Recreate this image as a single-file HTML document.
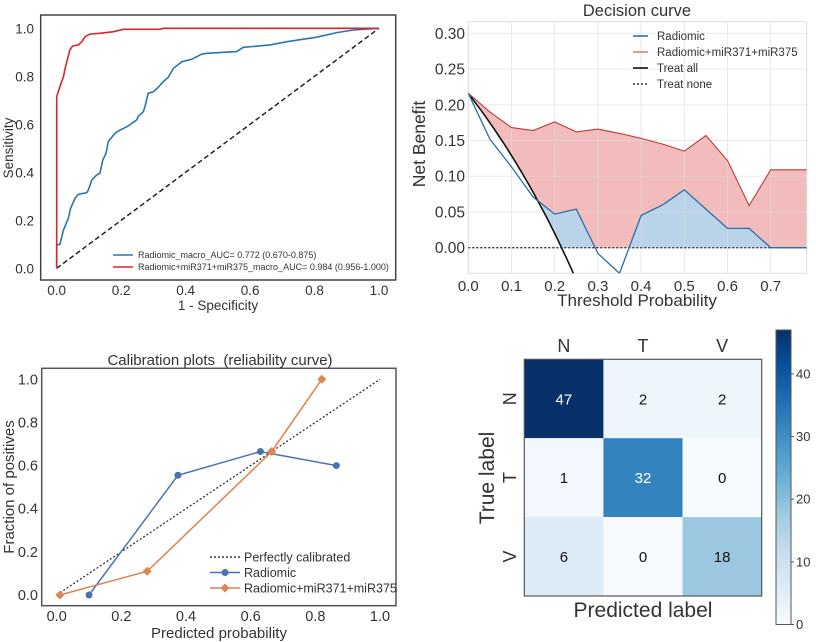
<!DOCTYPE html>
<html><head><meta charset="utf-8">
<style>
html,body{margin:0;padding:0;background:#fff;}
svg{display:block;font-family:"Liberation Sans",Arial,sans-serif;}
</style></head>
<body>
<svg id="s" width="816" height="642" viewBox="0 0 816 642" xmlns="http://www.w3.org/2000/svg"></svg>
<script>
// ---------- ROC data ----------
const rocBlueX=[0,0,.010,.021,.036,.043,.057,.067,.093,.098,.109,.124,.134,.143,.153,.160,.171,.181,.196,.222,.233,.248,.253,.269,.274,.284,.300,.315,.331,.346,.362,.388,.419,.450,.465,.558,.579,.610,.662,.714,.807,.869,.920,1];
const rocBlueY=[0,.097,.100,.160,.208,.250,.292,.308,.315,.326,.368,.389,.396,.451,.479,.528,.546,.563,.576,.593,.604,.618,.632,.653,.674,.729,.736,.754,.778,.796,.833,.861,.871,.892,.896,.903,.921,.924,.931,.944,.963,.982,.993,1];
const rocRedX=[0,0,.010,.021,.026,.034,.041,.049,.067,.078,.088,.103,.134,.176,.207,.321,.331,1];
const rocRedY=[0,.715,.757,.799,.833,.875,.910,.926,.931,.944,.965,.976,.979,.986,.996,.996,1,1];
const rocTicks=[0,0.2,0.4,0.6,0.8,1.0];
// ---------- Decision curve data ----------
const dcThresh=[0,.05,.1,.15,.2,.25,.3,.35,.4,.45,.5,.55,.6,.65,.7,.75,.8];
const dcCombined=[.216,.19,.168,.164,.176,.162,.166,.160,.153,.145,.135,.157,.122,.059,.109,.109,.109];
const dcRadiomic=[.216,.152,.113,.071,.047,.054,-.008,-.036,.045,.060,.081,.054,.027,.027,0,0,0];
const dcPrevalence=[0.216];
const dcXTicks=[0,.1,.2,.3,.4,.5,.6,.7];
const dcYTicks=[0,.05,.1,.15,.2,.25,.3];
// ---------- Calibration data ----------
const calBlueX=[.10,.375,.63,.865];
const calBlueY=[0,.555,.665,.60];
const calOrX=[.01,.28,.665,.82];
const calOrY=[0,.11,.665,1.0];
const calTicks=[0,.2,.4,.6,.8,1.0];
// ---------- Confusion matrix ----------
const cmLabels=["N","T","V"];
const cmValues=[[47,2,2],[1,32,0],[6,0,18]];
const cbTicks=[0,10,20,30,40];

const NS="http://www.w3.org/2000/svg";
const svg=document.getElementById('s');
function el(tag,attrs,parent,text){const e=document.createElementNS(NS,tag);for(const k in attrs)e.setAttribute(k,attrs[k]);if(text!==undefined)e.textContent=text;(parent||svg).appendChild(e);return e;}
function lin(d0,d1,r0,r1){return v=>r0+(v-d0)/(d1-d0)*(r1-r0);}
function pts(xs,ys,X,Y){return xs.map((x,i)=>X(x).toFixed(1)+','+Y(ys[i]).toFixed(1)).join(' ');}

// ===== ROC =====
(function(){
const g=el('g',{});


const X=lin(0,1,56.7,379),Y=lin(0,1,268.3,28.3);
el('rect',{x:40.7,y:15,width:355,height:265,fill:'#fff',stroke:'#444','stroke-width':1.5},g);
rocTicks.forEach(t=>{
 const a=el('text',{x:X(t),y:295,'text-anchor':'middle','font-size':13.5,fill:'#333'},g,t.toFixed(1));
 
 const b=el('text',{x:34,y:Y(t)+5,'text-anchor':'end','font-size':13.5,fill:'#333'},g,t.toFixed(1));
 
});
const d=el('line',{x1:X(0),y1:Y(0),x2:X(1),y2:Y(1),stroke:'#222','stroke-width':1.5,'stroke-dasharray':'5,3'},g);

const b=el('polyline',{points:pts(rocBlueX,rocBlueY,X,Y),fill:'none',stroke:'#2a74b0','stroke-width':1.6},g);

const r=el('polyline',{points:pts(rocRedX,rocRedY,X,Y),fill:'none',stroke:'#d62728','stroke-width':1.6},g);

const l1=el('line',{x1:113,y1:255,x2:133,y2:255,stroke:'#2a74b0','stroke-width':1.6},g);

const t1=el('text',{x:138,y:258,'font-size':9,fill:'#333'},g,'Radiomic_macro_AUC= 0.772 (0.670-0.875)');

const l2=el('line',{x1:113,y1:267,x2:133,y2:267,stroke:'#d62728','stroke-width':1.6},g);

const t2=el('text',{x:138,y:270,'font-size':9,fill:'#333'},g,'Radiomic+miR371+miR375_macro_AUC= 0.984 (0.956-1.000)');

const xt=el('text',{x:218,y:310,'text-anchor':'middle','font-size':13.5,fill:'#333'},g,'1 - Specificity');

const yt=el('text',{x:0,y:0,transform:'translate(13,148) rotate(-90)','text-anchor':'middle','font-size':13.5,fill:'#333'},g,'Sensitivity');

})();

// ===== Decision curve =====
(function(){
const g=el('g',{});


const L=468.3,R=806.7,T=21.7,B=273.3;
const X=lin(0,0.7,L,770.7),Y=lin(0,0.3,247.7,33.3);
el('defs',{},g).innerHTML='<clipPath id="dcc"><rect x="'+L+'" y="'+T+'" width="'+(R-L)+'" height="'+(B-T)+'"/></clipPath><clipPath id="dcpos"><rect x="'+L+'" y="'+T+'" width="'+(R-L)+'" height="'+(Y(0)-T)+'"/></clipPath>';
const c=el('g',{'clip-path':'url(#dcc)'},g);
const x0=dcThresh[0],xN=dcThresh[dcThresh.length-1];
const rf=el('polygon',{points:X(x0)+','+Y(0)+' '+pts(dcThresh,dcCombined,X,Y)+' '+X(xN)+','+Y(0),fill:'#f2bcbc'},c);

const bg=el('g',{'clip-path':'url(#dcpos)'},c);
const bf=el('polygon',{points:X(x0)+','+Y(0)+' '+pts(dcThresh,dcRadiomic,X,Y)+' '+X(xN)+','+Y(0),fill:'#b9d3e9'},bg);

// treat-all line and white mask under it (fills are relative to max(treat all, 0))
const p=dcPrevalence[0];
const taX=[],taY=[];
for(let t=0;t<=0.4001;t+=0.01){taX.push(t);taY.push(p-(1-p)*t/(1-t));}
const zx=p; // treat-all crosses zero at threshold = prevalence
const mX=taX.filter(t=>t<zx).concat([zx]),mY=mX.map(t=>p-(1-p)*t/(1-t));
el('polygon',{points:X(0)+','+Y(0)+' '+pts(mX,mY,X,Y),fill:'#fff'},c);
dcXTicks.forEach(t=>{el('line',{x1:X(t),y1:T,x2:X(t),y2:B,stroke:'#ddd','stroke-width':1,opacity:0.6},g);
 const a=el('text',{x:X(t),y:291,'text-anchor':'middle','font-size':15,fill:'#333'},g,t.toFixed(1));
 });
dcYTicks.forEach(t=>{el('line',{x1:L,y1:Y(t),x2:R,y2:Y(t),stroke:'#ddd','stroke-width':1,opacity:0.6},g);
 const a=el('text',{x:465,y:Y(t)+5.5,'text-anchor':'end','font-size':15.5,fill:'#333'},g,t.toFixed(2));
 });
el('rect',{x:L,y:T,width:R-L,height:B-T,fill:'none',stroke:'#ddd'},g);
const c2=el('g',{'clip-path':'url(#dcc)'},g);
const nz=el('line',{x1:L,y1:Y(0),x2:R,y2:Y(0),stroke:'#333','stroke-width':1.4,'stroke-dasharray':'2,2'},c2);

const ta=el('polyline',{points:pts(taX,taY,X,Y),fill:'none',stroke:'#111','stroke-width':1.6},c2);

const bl=el('polyline',{points:pts(dcThresh,dcRadiomic,X,Y),fill:'none',stroke:'#2a6fa8','stroke-width':1.3},c2);

const rl=el('polyline',{points:pts(dcThresh,dcCombined,X,Y),fill:'none',stroke:'#c0393b','stroke-width':1.1},c2);

const leg=[['Radiomic','#2a6fa8',''],['Radiomic+miR371+miR375','#e07b7b',''],['Treat all','#111',''],['Treat none','#333','2,2']];
leg.forEach((e,i)=>{const y=36+i*16;
 el('line',{x1:633,y1:y,x2:648,y2:y,stroke:e[1],'stroke-width':1.6,'stroke-dasharray':e[2]},g);
 const t=el('text',{x:657,y:y+4,'font-size':11.5,fill:'#333'},g,e[0]);
 });
const tt=el('text',{x:637,y:16,'text-anchor':'middle','font-size':16.5,fill:'#333'},g,'Decision curve');

const xt=el('text',{x:637,y:306,'text-anchor':'middle','font-size':17,fill:'#333'},g,'Threshold Probability');

const yt=el('text',{x:0,y:0,transform:'translate(425,144) rotate(-90)','text-anchor':'middle','font-size':17.5,fill:'#333'},g,'Net Benefit');

})();

// ===== Calibration =====
(function(){
const g=el('g',{});


const X=lin(0,1,56.7,380),Y=lin(0,1,595,379.3);
el('rect',{x:41.7,y:368.3,width:354.3,height:237.4,fill:'#fff',stroke:'#555','stroke-width':1.5},g);
calTicks.forEach(t=>{
 const a=el('text',{x:X(t),y:621,'text-anchor':'middle','font-size':14.5,fill:'#333'},g,t.toFixed(1));
 
 const b=el('text',{x:38,y:Y(t)+5,'text-anchor':'end','font-size':14.5,fill:'#333'},g,t.toFixed(1));
 });
const pc=el('line',{x1:X(0),y1:Y(0),x2:X(1),y2:Y(1),stroke:'#333','stroke-width':1.3,'stroke-dasharray':'2,2'},g);

const bl=el('polyline',{points:pts(calBlueX,calBlueY,X,Y),fill:'none',stroke:'#4c72b0','stroke-width':1.5},g);

calBlueX.forEach((x,i)=>{const m=el('circle',{cx:X(x),cy:Y(calBlueY[i]),r:3.5,fill:'#4c72b0'},g);
 });
const ol=el('polyline',{points:pts(calOrX,calOrY,X,Y),fill:'none',stroke:'#dd8452','stroke-width':1.5},g);

calOrX.forEach((x,i)=>{const cx=X(x),cy=Y(calOrY[i]);const m=el('polygon',{points:`${cx},${cy-4.5} ${cx+4.5},${cy} ${cx},${cy+4.5} ${cx-4.5},${cy}`,fill:'#dd8452'},g);
 });
const leg=[['Perfectly calibrated','#333','2,2',''],['Radiomic','#4c72b0','','c'],['Radiomic+miR371+miR375','#dd8452','','d']];
leg.forEach((e,i)=>{const y=557+i*15.5;
 el('line',{x1:210,y1:y,x2:240,y2:y,stroke:e[1],'stroke-width':1.4,'stroke-dasharray':e[2]},g);
 if(e[3]==='c')el('circle',{cx:225,cy:y,r:3.5,fill:e[1]},g);
 if(e[3]==='d')el('polygon',{points:`225,${y-4.5} 229.5,${y} 225,${y+4.5} 220.5,${y}`,fill:e[1]},g);
 const t=el('text',{x:244,y:y+4.5,'font-size':12.5,fill:'#333'},g,e[0]);
 });
const tt=el('text',{x:220,y:365,'text-anchor':'middle','font-size':15,fill:'#333'},g,'Calibration plots\u00a0 (reliability curve)');

const xt=el('text',{x:219,y:638,'text-anchor':'middle','font-size':15,fill:'#333'},g,'Predicted probability');

const yt=el('text',{x:0,y:0,transform:'translate(14,487) rotate(-90)','text-anchor':'middle','font-size':15,fill:'#333'},g,'Fraction of positives');

})();

// ===== Confusion matrix =====
(function(){
const g=el('g',{});


const stops=[[247,251,255],[222,235,247],[198,219,239],[158,202,225],[107,174,214],[66,146,198],[33,113,181],[8,81,156],[8,48,107]];
const vmax=47;
function blues(v){let t=Math.max(0,Math.min(1,v/vmax))*8;const i=Math.min(7,Math.floor(t)),f=t-i;const a=stops[i],b=stops[i+1];return 'rgb('+a.map((c,k)=>Math.round(c+(b[k]-c)*f)).join(',')+')';}
const L=524.3,T=359.3,cw=(761.7-524.3)/3,ch=(596-359.3)/3;
cmValues.forEach((row,r)=>row.forEach((v,c)=>{
 const rc=el('rect',{x:L+c*cw,y:T+r*ch,width:cw,height:ch,fill:blues(v)},g);
 
 const t=el('text',{x:L+c*cw+cw/2,y:T+r*ch+ch/2+5.5,'text-anchor':'middle','font-size':15,fill:v>vmax/2?'#fff':'#111'},g,String(v));
 
}));
el('rect',{x:L,y:T,width:cw*3,height:ch*3,fill:'none',stroke:'#555','stroke-width':1.2},g);
cmLabels.forEach((lab,i)=>{
 const a=el('text',{x:L+i*cw+cw/2,y:352,'text-anchor':'middle','font-size':18,fill:'#333'},g,lab);
 
 const cy=T+i*ch+ch/2;
 const b=el('text',{x:0,y:0,transform:`translate(516,${cy}) rotate(-90)`,'text-anchor':'middle','font-size':18,fill:'#333'},g,lab);
 
});
const yt=el('text',{x:0,y:0,transform:'translate(494,478) rotate(-90)','text-anchor':'middle','font-size':21,fill:'#333'},g,'True label');

const xt=el('text',{x:643,y:617,'text-anchor':'middle','font-size':21,fill:'#333'},g,'Predicted label');

const cbT=330,cbB=624.5,cbL=776,cbW=15;
const CY=lin(0,vmax,cbB,cbT);
const defs=el('defs',{},g);
const lg=el('linearGradient',{id:'cbg',x1:0,y1:1,x2:0,y2:0},defs);
stops.forEach((s,i)=>el('stop',{offset:(i/8),'stop-color':'rgb('+s.join(',')+')'},lg));
const cb=el('rect',{x:cbL,y:cbT,width:cbW,height:cbB-cbT,fill:'url(#cbg)',stroke:'#555','stroke-width':1},g);

cbTicks.forEach(t=>{el('line',{x1:cbL+cbW,y1:CY(t),x2:cbL+cbW+3,y2:CY(t),stroke:'#555'},g);
 const a=el('text',{x:796,y:CY(t)+4.5,'font-size':13,fill:'#333'},g,String(t));
 });
})();
</script>
</body></html>
